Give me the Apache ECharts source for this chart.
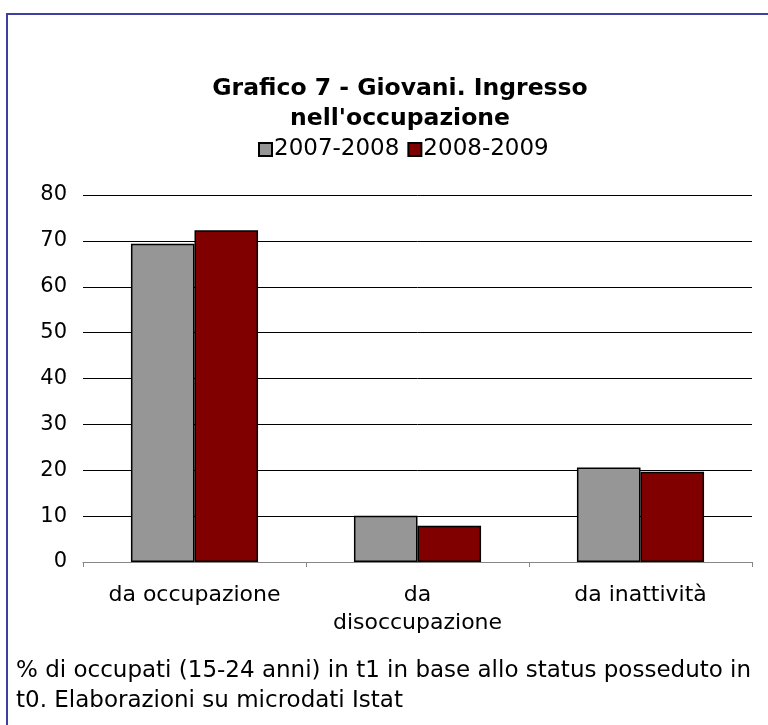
<!DOCTYPE html>
<html>
<head>
<meta charset="utf-8">
<script src="https://cdn.jsdelivr.net/npm/echarts@6/dist/echarts.min.js"></script>
<style>
html,body{margin:0;padding:0;background:#fff;}
#c{width:768px;height:725px;}
</style>
</head>
<body>
<div id="c"></div>
<script>
const categories = ['da occupazione', 'da\ndisoccupazione', 'da inattività'];
const seriesNames = ['2007-2008', '2008-2009'];
const values2007 = [69.4, 10.1, 20.6];
const values2008 = [72.3, 7.9, 19.7];
const yTicks = [0, 10, 20, 30, 40, 50, 60, 70, 80];
const titleLines = ['Grafico 7 - Giovani. Ingresso', "nell'occupazione"];
const footerText = '% di occupati (15-24 anni) in t1 in base allo status posseduto in\nt0. Elaborazioni su microdati Istat';

const FONT = '"DejaVu Sans", Verdana, sans-serif';
const chart = echarts.init(document.getElementById('c'), null, {renderer: 'canvas'});
chart.setOption({
  backgroundColor: '#fff',
  animation: false,
  title: {
    text: titleLines.join('\n'),
    left: 395, top: 69, textAlign: 'center',
    textStyle: {fontFamily: FONT, fontSize: 23.5, fontWeight: 'bold', color: '#000', lineHeight: 30}
  },
  legend: {
    top: 133, left: 253,
    itemWidth: 13, itemHeight: 13, itemGap: 8,
    icon: 'rect',
    textStyle: {fontFamily: FONT, fontSize: 23, color: '#000', padding: [0,0,0,-3]},
    data: seriesNames
  },
  grid: {left: 83, right: 16, top: 195, bottom: 163, containLabel: false},
  xAxis: {
    type: 'category', data: categories,
    axisLine: {show: true, lineStyle: {color: '#868686', width: 1}},
    axisTick: {show: true, length: 5, lineStyle: {color: '#868686'}},
    axisLabel: {fontFamily: FONT, fontSize: 22, color: '#000', margin: 19, lineHeight: 28, interval: 0}
  },
  yAxis: {
    type: 'value', min: yTicks[0], max: yTicks[yTicks.length-1], interval: 10,
    axisLine: {show: false}, axisTick: {show: false},
    axisLabel: {fontFamily: FONT, fontSize: 21, color: '#000', margin: 16},
    splitLine: {lineStyle: {color: '#000', width: 1}}
  },
  series: [
    {name: seriesNames[0], type: 'bar', data: values2007, barGap: '0%', barCategoryGap: '43%',
     itemStyle: {color: '#969696', borderColor: '#000', borderWidth: 1.5}},
    {name: seriesNames[1], type: 'bar', data: values2008,
     itemStyle: {color: '#800000', borderColor: '#000', borderWidth: 1.5}}
  ],
  graphic: [
    {type: 'rect', shape: {x: 7, y: 14, width: 900, height: 900}, style: {fill: 'none', stroke: '#3f3f9f', lineWidth: 2}, silent: true, z: 100},
    {type: 'text', left: 16, top: 656, style: {text: footerText, fontFamily: FONT, fontSize: 23, fill: '#000', lineHeight: 30}}
  ]
});
</script>
</body>
</html>
